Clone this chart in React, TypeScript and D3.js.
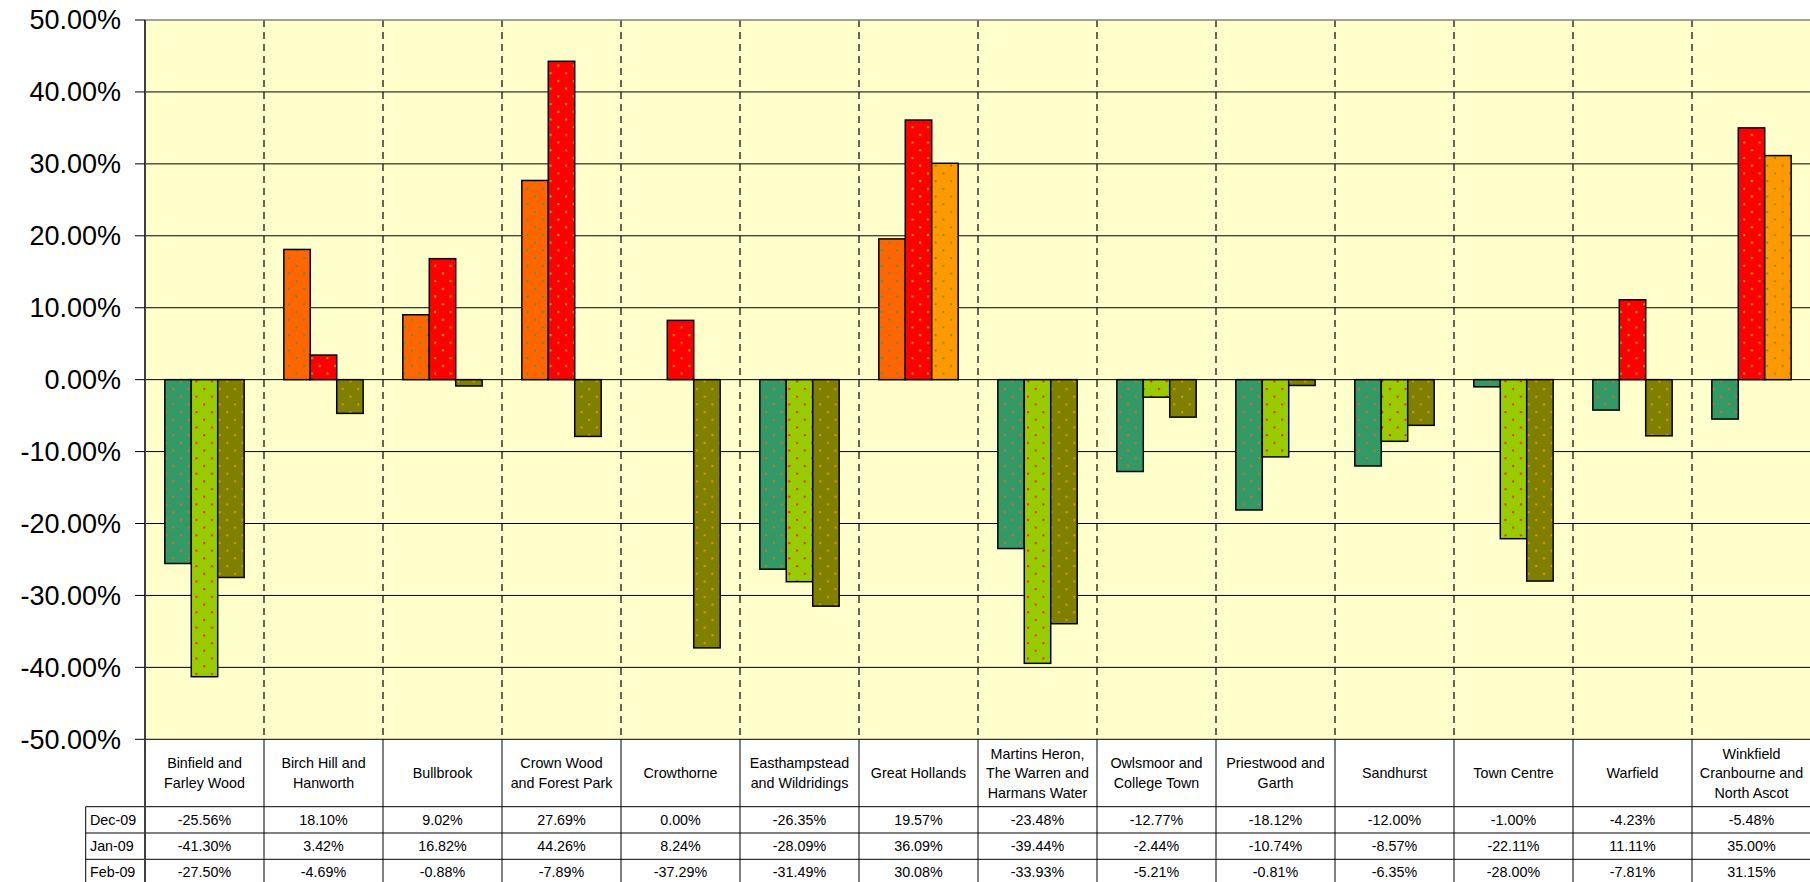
import React from "react";
import * as d3 from "d3";

const categories = [
  "Binfield and Farley Wood",
  "Birch Hill and Hanworth",
  "Bullbrook",
  "Crown Wood and Forest Park",
  "Crowthorne",
  "Easthampstead and Wildridings",
  "Great Hollands",
  "Martins Heron, The Warren and Harmans Water",
  "Owlsmoor and College Town",
  "Priestwood and Garth",
  "Sandhurst",
  "Town Centre",
  "Warfield",
  "Winkfield Cranbourne and North Ascot",
];
const categoryLines = [
  ["Binfield and", "Farley Wood"],
  ["Birch Hill and", "Hanworth"],
  ["Bullbrook"],
  ["Crown Wood", "and Forest Park"],
  ["Crowthorne"],
  ["Easthampstead", "and Wildridings"],
  ["Great Hollands"],
  ["Martins Heron,", "The Warren and", "Harmans Water"],
  ["Owlsmoor and", "College Town"],
  ["Priestwood and", "Garth"],
  ["Sandhurst"],
  ["Town Centre"],
  ["Warfield"],
  ["Winkfield", "Cranbourne and", "North Ascot"],
];
const seriesNames = ["Dec-09", "Jan-09", "Feb-09"];
const dec09 = [-25.56, 18.1, 9.02, 27.69, 0.0, -26.35, 19.57, -23.48, -12.77, -18.12, -12.0, -1.0, -4.23, -5.48];
const jan09 = [-41.3, 3.42, 16.82, 44.26, 8.24, -28.09, 36.09, -39.44, -2.44, -10.74, -8.57, -22.11, 11.11, 35.0];
const feb09 = [-27.5, -4.69, -0.88, -7.89, -37.29, -31.49, 30.08, -33.93, -5.21, -0.81, -6.35, -28.0, -7.81, 31.15];
const seriesValues = [dec09, jan09, feb09];
const positiveColors = ["#FF6600", "#FF0000", "#FF9900"];
const negativeColors = ["#339966", "#99CC00", "#808000"];
const yTicks = [-50, -40, -30, -20, -10, 0, 10, 20, 30, 40, 50];

const W = 1810;
const H = 882;
const FONT = "'Liberation Sans', Arial, sans-serif";
const pct = (v: number) => v.toFixed(2) + "%";

export default function App() {
  const left = 145;
  const right = 1811;
  const top = 20;
  const bottom = 739.3;
  const headerBottom = 806.7;
  const rowH = 26.3;
  const labelLeft = 85.7;
  const tableFont = 14.3;

  const y = d3.scaleLinear().domain([-50, 50]).range([bottom, top]);
  const x = d3.scaleBand<string>().domain(categories).range([left, right]).paddingInner(0).paddingOuter(0);
  const xs = d3
    .scaleBand<string>()
    .domain(seriesNames)
    .range([0, x.bandwidth()])
    .paddingInner(0)
    .paddingOuter(0.75);

  const patterns: { id: string; bg: string; dot: string }[] = [];
  seriesNames.forEach((s, i) => {
    patterns.push({ id: `pos${i}`, bg: positiveColors[i], dot: negativeColors[i] });
    patterns.push({ id: `neg${i}`, bg: negativeColors[i], dot: positiveColors[i] });
  });

  const rowTops = seriesNames.map((_, i) => headerBottom + i * rowH);

  return (
    <svg
      width={W}
      height={H}
      style={{ position: "absolute", left: 0, top: 0, display: "block", background: "#ffffff" }}
      fontFamily={FONT}
    >
      <defs>
        {patterns.map((p) => (
          <pattern key={p.id} id={p.id} width={15.4} height={15.4} patternUnits="userSpaceOnUse">
            <rect width={15.4} height={15.4} fill={p.bg} />
            <rect x={3} y={3} width={2} height={2} fill={p.dot} opacity={0.85} />
            <rect x={10.7} y={10.7} width={2} height={2} fill={p.dot} opacity={0.85} />
          </pattern>
        ))}
      </defs>

      {/* plot background */}
      <rect x={left} y={top} width={right - left} height={bottom - top} fill="#FFFFCC" />

      {/* horizontal gridlines */}
      {yTicks
        .filter((t) => t !== -50 && t !== 50)
        .map((t) => (
          <line key={t} x1={left} x2={right} y1={y(t)} y2={y(t)} stroke="#000" strokeWidth={1} />
        ))}

      {/* vertical dashed lines */}
      {categories.slice(1).map((c) => (
        <line
          key={c}
          x1={x(c)!}
          x2={x(c)!}
          y1={top}
          y2={bottom}
          stroke="#000"
          strokeWidth={1.2}
          strokeDasharray="7,5"
        />
      ))}

      {/* top border */}
      <line x1={left} x2={right} y1={top} y2={top} stroke="#808080" strokeWidth={1.5} />

      {/* bars */}
      {seriesNames.map((s, si) =>
        categories.map((c, ci) => {
          const v = seriesValues[si][ci];
          if (v === 0) return null;
          const bx = x(c)! + xs(s)!;
          const y0 = y(0);
          const yv = y(v);
          return (
            <rect
              key={s + c}
              x={bx}
              y={Math.min(y0, yv)}
              width={xs.bandwidth()}
              height={Math.abs(yv - y0)}
              fill={`url(#${v >= 0 ? "pos" : "neg"}${si})`}
              stroke="#000"
              strokeWidth={1.5}
            />
          );
        })
      )}

      {/* y axis */}
      <line x1={left} x2={left} y1={top} y2={H} stroke="#404040" strokeWidth={2} />
      {yTicks.map((t) => (
        <g key={t}>
          <line x1={135} x2={left} y1={y(t)} y2={y(t)} stroke="#000" strokeWidth={1} />
          <text x={121} y={y(t)} dy="0.35em" textAnchor="end" fontSize={27} fill="#000">
            {pct(t)}
          </text>
        </g>
      ))}

      {/* data table */}
      <rect x={left} y={bottom} width={right - left} height={H - bottom} fill="#fff" />
      <line x1={left} x2={right} y1={bottom} y2={bottom} stroke="#000" strokeWidth={1} />
      {rowTops.map((rt, i) => (
        <line key={i} x1={labelLeft} x2={right} y1={rt} y2={rt} stroke="#000" strokeWidth={1} />
      ))}
      <line x1={labelLeft} x2={labelLeft} y1={headerBottom} y2={H} stroke="#000" strokeWidth={1} />
      <line x1={left} x2={left} y1={bottom} y2={H} stroke="#404040" strokeWidth={2} />
      {categories.slice(1).map((c) => (
        <line key={c} x1={x(c)!} x2={x(c)!} y1={bottom} y2={H} stroke="#000" strokeWidth={1} />
      ))}

      {/* header labels */}
      {categories.map((c, ci) => {
        const lines = categoryLines[ci];
        const cx = x(c)! + x.bandwidth() / 2;
        const cy = (bottom + headerBottom) / 2;
        const lh = 19.5;
        return (
          <text key={c} x={cx} textAnchor="middle" fontSize={tableFont} fill="#000">
            {lines.map((l, li) => (
              <tspan key={li} x={cx} y={cy + (li - (lines.length - 1) / 2) * lh} dy="0.35em">
                {l}
              </tspan>
            ))}
          </text>
        );
      })}

      {/* row labels and values */}
      {seriesNames.map((s, si) => (
        <g key={s}>
          <text x={90} y={rowTops[si] + rowH / 2} dy="0.35em" fontSize={tableFont} fill="#000">
            {s}
          </text>
          {categories.map((c, ci) => (
            <text
              key={c}
              x={x(c)! + x.bandwidth() / 2}
              y={rowTops[si] + rowH / 2}
              dy="0.35em"
              textAnchor="middle"
              fontSize={tableFont}
              fill="#000"
            >
              {pct(seriesValues[si][ci])}
            </text>
          ))}
        </g>
      ))}
    </svg>
  );
}
